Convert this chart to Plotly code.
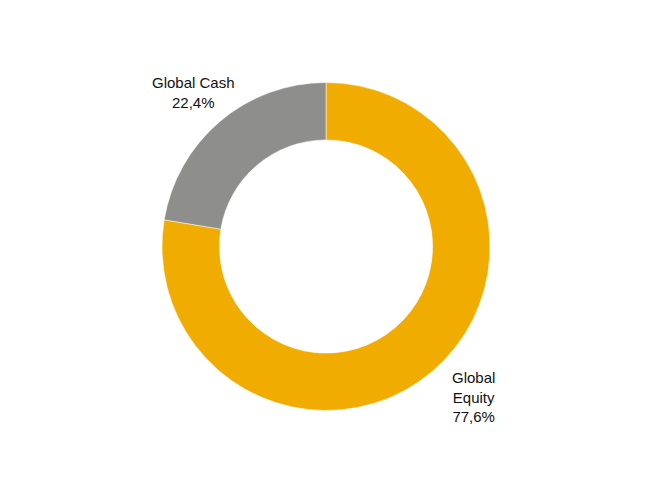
import plotly.graph_objects as go

labels = ["Global Equity", "Global Cash"]
values = [77.6, 22.4]
texts = ["Global<br>Equity<br>77,6%", "Global Cash<br>22,4%"]
colors = ["#F0AC00", "#8E8F8D"]

W, H = 672, 482
OFF = 8  # page body margin
cx, cy, r = 326 - OFF, 246.5 - OFF, 164

fig = go.Figure(go.Pie(
    labels=labels,
    values=values,
    textinfo="none",
    hole=0.65,
    sort=False,
    direction="clockwise",
    rotation=0,
    domain=dict(x=[(cx - r) / W, (cx + r) / W], y=[1 - (cy + r) / H, 1 - (cy - r) / H]),
    marker=dict(colors=colors, line=dict(color="white", width=0.5)),
    showlegend=False,
    hoverinfo="label+percent",
))

label_pos = [(473 - OFF, 397 - OFF), (193 - OFF, 92.5 - OFF)]
for t, (px, py) in zip(texts, label_pos):
    fig.add_annotation(
        text=t, x=px / W, y=1 - py / H, xref="paper", yref="paper",
        xanchor="center", yanchor="middle", showarrow=False, align="center",
        font=dict(family="Liberation Sans, Arial, sans-serif", size=15, color="#111111"),
    )

fig.update_layout(
    width=W, height=H,
    margin=dict(l=0, r=0, t=0, b=0),
    paper_bgcolor="white",
    plot_bgcolor="white",
)

fig.write_html("out.html")
